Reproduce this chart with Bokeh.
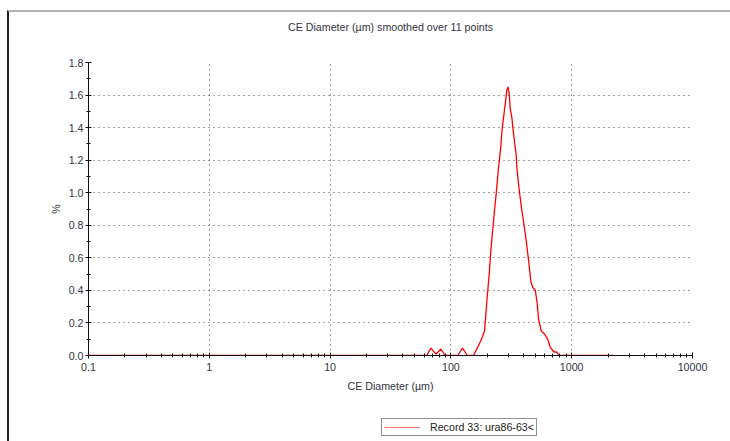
from bokeh.plotting import figure
from bokeh.layouts import column
from bokeh.models import (FixedTicker, CustomJSTickFormatter, Legend, LegendItem,
                          PrintfTickFormatter, LogAxis, Range1d)
from bokeh.embed import file_html
from bokeh.resources import INLINE

# Particle size distribution (CE diameter in µm vs % of particles)
size_um = [0.1, 10, 63.0, 68.4, 75.2, 82.7, 89.4, 114, 124.7, 137, 153.8, 169, 180.3,
           189.9, 198.3, 207, 215, 225, 236.7, 247.6, 258.8, 263.7, 272.6, 281, 290.4,
           296.3, 303.8, 309.6, 319.8, 330.3, 340.7, 347.4, 351.9, 363.6, 380, 400, 418,
           440, 460, 475, 500, 516, 533, 560, 598, 633, 665, 710, 757, 781, 1000, 2200]
percent = [0.0, 0.0, 0.0, 0.045, 0.008, 0.04, 0.0, 0.0, 0.045, 0.0, 0.0, 0.06, 0.105,
           0.15, 0.33, 0.49, 0.66, 0.82, 0.99, 1.15, 1.28, 1.37, 1.46, 1.54, 1.63,
           1.65, 1.61, 1.52, 1.46, 1.36, 1.28, 1.23, 1.15, 1.05, 0.93, 0.82, 0.72,
           0.58, 0.45, 0.42, 0.40, 0.33, 0.22, 0.15, 0.13, 0.10, 0.05, 0.023, 0.02,
           0.0, 0.0, 0.0]

x_major = [0.1, 1, 10, 100, 1000, 10000]
x_minor = [m * d for d in [0.1, 1, 10, 100, 1000] for m in range(2, 10)]
y_major = [round(0.2 * i, 1) for i in range(10)]
y_minor = [round(0.1 * i, 1) for i in range(19)]

series_name = "Record 33: ura86-63<"
chart_title = "CE Diameter (µm) smoothed over 11 points"
x_title = "CE Diameter (µm)"
y_title = "%"

FONT = "Liberation Sans"
TXT = "#333340"

p = figure(frame_width=602, frame_height=291, x_axis_type="log",
           x_range=(0.1, 10000), y_range=(0, 1.8),
           output_backend="svg", toolbar_location=None,
           min_border_left=79, min_border_right=40, min_border_top=50, min_border_bottom=60)
p.outline_line_color = None
p.background_fill_color = "white"
p.border_fill_color = "white"
# panel edges along the top and left
p.styles = {"border-top": "2px solid #b4b4b4", "border-left": "2px solid #222222",
            "margin-top": "10px", "margin-left": "7px"}

line = p.line(size_um, percent, line_color="#ff0000", line_width=1.3)

xax = p.below[0]
yax = p.left[0]

# chart heading, carried by a bare axis above the frame
top = LogAxis(ticker=FixedTicker(ticks=[]), axis_label=chart_title,
              axis_line_color=None, major_tick_line_color=None, minor_tick_line_color=None,
              major_label_text_font_size="0pt", axis_label_standoff=30,
              axis_label_text_font=FONT, axis_label_text_font_size="8pt",
              axis_label_text_font_style="normal", axis_label_text_color=TXT)
p.add_layout(top, "above")

# axes
for ax in (xax, yax):
    ax.axis_line_color = "#111111"
    ax.axis_line_width = 1
    ax.major_tick_line_color = "#111111"
    ax.minor_tick_line_color = "#111111"
    ax.major_tick_in = 3
    ax.major_tick_out = 3
    ax.minor_tick_in = 2
    ax.minor_tick_out = 2
    ax.major_label_text_font = FONT
    ax.major_label_text_font_size = "8pt"
    ax.major_label_text_color = TXT
    ax.axis_label_text_font = FONT
    ax.axis_label_text_font_size = "8pt"
    ax.axis_label_text_font_style = "normal"
    ax.axis_label_text_color = TXT

xax.ticker = FixedTicker(ticks=x_major, minor_ticks=x_minor)
xax.formatter = CustomJSTickFormatter(code="return tick < 1 ? tick.toFixed(1) : tick.toFixed(0);")
xax.axis_label = x_title
xax.major_label_standoff = 4
xax.axis_label_standoff = 6

yax.ticker = FixedTicker(ticks=y_major, minor_ticks=y_minor)
yax.formatter = PrintfTickFormatter(format="%.1f")
yax.axis_label = y_title
yax.major_label_standoff = 2
yax.axis_label_standoff = 4

# dotted grid
p.xgrid.ticker = FixedTicker(ticks=x_major[1:])
p.ygrid.ticker = FixedTicker(ticks=y_major[1:])
for g in (p.xgrid[0], p.ygrid[0]):
    g.grid_line_color = "#444444"
    g.grid_line_dash = "1 4"
    g.grid_line_width = 1

# legend strip under the chart; its line sits outside the strip's visible range
leg = figure(width=721, height=28, x_range=Range1d(0.1, 10000), y_range=Range1d(10, 11),
             x_axis_type="log", x_axis_location=None, y_axis_location=None,
             output_backend="svg", toolbar_location=None, min_border=0)
leg.outline_line_color = None
leg.xgrid.visible = False
leg.ygrid.visible = False
leg.styles = {"border-left": "2px solid #222222", "margin-left": "7px"}
leg_line = leg.line(size_um, percent, line_color="#ff6a6a", line_width=1.2)

legend = Legend(items=[LegendItem(label=series_name, renderers=[leg_line])],
                location=(293, 5), orientation="horizontal",
                label_text_font=FONT, label_text_font_size="8pt", label_text_color="#222222",
                border_line_color="#222222", border_line_width=1,
                glyph_width=36, glyph_height=10, label_height=10, label_standoff=10,
                padding=2, margin=0, spacing=0, background_fill_alpha=1)
leg.add_layout(legend, "center")

open("out.html", "w").write(file_html(column(p, leg), INLINE))
